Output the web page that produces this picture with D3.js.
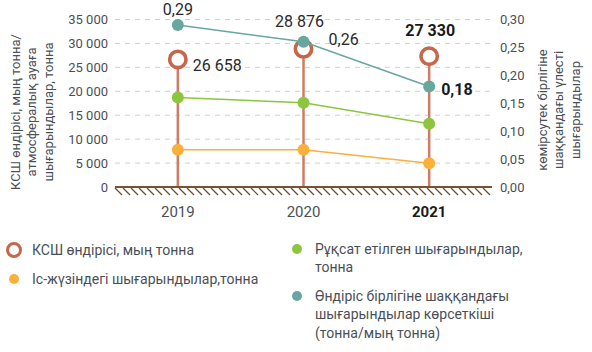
<!DOCTYPE html>
<html>
<head>
<meta charset="utf-8">
<script src="https://cdn.jsdelivr.net/npm/d3@7"></script>
<style>
  body { margin: 0; background: #fff; }
  svg { font-family: Roboto, "Noto Sans", sans-serif; }
</style>
</head>
<body>
<div id="chart"></div>
<script>
// Données
const years = ["2019", "2020", "2021"];
const production = [26658, 28876, 27330];      // КСШ өндірісі, мың тонна
const permitted = [18700, 17600, 13200];       // Рұқсат етілген шығарындылар
const actual = [7800, 7800, 4950];             // Іс-жүзіндегі шығарындылар
const ratio = [0.29, 0.26, 0.18];              // тонна/мың тонна
const leftTicks = [0, 5000, 10000, 15000, 20000, 25000, 30000, 35000];
const rightTicks = [0, 0.05, 0.10, 0.15, 0.20, 0.25, 0.30];

const colRing = "#c4674a";
const colStem = "#cf7c66";
const colGreen = "#8cc63e";
const colOrange = "#fbb03b";
const colTeal = "#68a7a0";
const colText = "#4a4f57";

//---------------------------------------------------------------------------------------

const W = 592, H = 352;
const x0 = 115, x1 = 492, yTop = 19.5, yBase = 187;

const svg = d3.select("#chart").append("svg")
    .attr("width", W)
    .attr("height", H);

// échelles
const scaleX = d3.scaleBand().domain(years).range([x0, x1]).padding(0);
const scaleY1 = d3.scaleLinear().domain([0, 35000]).range([yBase, yTop]);
const scaleY2 = d3.scaleLinear().domain([0, 0.30]).range([yBase, yTop]);
const cx = d => scaleX(d) + scaleX.bandwidth() / 2;

const fmtThousands = v => d3.format(",")(v).replace(/,/g, " ");
const fmtComma = v => d3.format(".2f")(v).replace(".", ",");

// lignes de grille
svg.append("g")
    .selectAll("line")
    .data(leftTicks.filter(d => d > 0))
    .join("line")
    .attr("x1", x0)
    .attr("x2", x1)
    .attr("y1", d => scaleY1(d))
    .attr("y2", d => scaleY1(d))
    .attr("stroke", "#d0d0d0")
    .attr("stroke-dasharray", "5,5");

// axe gauche
svg.append("g")
    .attr("transform", `translate(${x0 - 3},0)`)
    .call(d3.axisLeft(scaleY1).tickValues(leftTicks).tickSize(0).tickPadding(4).tickFormat(fmtThousands))
    .call(g => g.select(".domain").remove())
    .selectAll("text")
    .attr("fill", colText)
    .attr("font-size", "13px")
    .attr("font-family", "Roboto");

// axe droit
svg.append("g")
    .attr("transform", `translate(${x1 + 4},0)`)
    .call(d3.axisRight(scaleY2).tickValues(rightTicks).tickSize(0).tickPadding(4).tickFormat(fmtComma))
    .call(g => g.select(".domain").remove())
    .selectAll("text")
    .attr("fill", colText)
    .attr("font-size", "13px")
    .attr("font-family", "Roboto");

// titres des axes
const leftTitle = ["КСШ өндірісі, мың тонна/", "атмосфералық ауаға", "шығарындылар, тонна"];
svg.append("text")
    .attr("transform", "translate(15,112) rotate(-90)")
    .attr("text-anchor", "middle")
    .attr("font-size", "13px")
    .attr("fill", colText)
    .selectAll("tspan")
    .data(leftTitle)
    .join("tspan")
    .attr("x", 0)
    .attr("dy", (d, i) => i === 0 ? "0.35em" : "16.5")
    .text(d => d);

const rightTitle = ["көмірсутек бірлігіне", "шаққандағы үлесті", "шығарындылар"];
svg.append("text")
    .attr("transform", "translate(542,110) rotate(-90)")
    .attr("text-anchor", "middle")
    .attr("font-size", "13px")
    .attr("fill", colText)
    .selectAll("tspan")
    .data(rightTitle)
    .join("tspan")
    .attr("x", 0)
    .attr("dy", (d, i) => i === 0 ? "0.35em" : "16.5")
    .text(d => d);

// tiges
svg.append("g")
    .selectAll("line")
    .data(years)
    .join("line")
    .attr("x1", d => cx(d))
    .attr("x2", d => cx(d))
    .attr("y1", (d, i) => scaleY1(production[i]) + 9)
    .attr("y2", yBase)
    .attr("stroke", colStem)
    .attr("stroke-width", 2.5);

// base hachurée
const hatch = d3.range(x0, x1 - 4, 8);
svg.append("g")
    .selectAll("line")
    .data(hatch)
    .join("line")
    .attr("x1", d => d)
    .attr("x2", d => d + 7)
    .attr("y1", yBase + 1)
    .attr("y2", yBase + 8)
    .attr("stroke", "#6e4a2c")
    .attr("stroke-width", 1.2);
svg.append("line")
    .attr("x1", x0)
    .attr("x2", x1)
    .attr("y1", yBase)
    .attr("y2", yBase)
    .attr("stroke", "#7a5230")
    .attr("stroke-width", 2);

// séries en lignes
const drawSeries = (values, scale, col) => {
    const line = d3.line()
        .x((d, i) => cx(years[i]))
        .y(d => scale(d));
    svg.append("path")
        .attr("d", line(values))
        .attr("fill", "none")
        .attr("stroke", col)
        .attr("stroke-width", 1.5);
    svg.append("g")
        .selectAll("circle")
        .data(values)
        .join("circle")
        .attr("cx", (d, i) => cx(years[i]))
        .attr("cy", d => scale(d))
        .attr("r", 6)
        .attr("fill", col);
};
drawSeries(actual, scaleY1, colOrange);
drawSeries(permitted, scaleY1, colGreen);

// anneaux production
svg.append("g")
    .selectAll("circle")
    .data(production)
    .join("circle")
    .attr("cx", (d, i) => cx(years[i]))
    .attr("cy", d => scaleY1(d))
    .attr("r", 8.2)
    .attr("fill", "#fff")
    .attr("stroke", colRing)
    .attr("stroke-width", 3.6);

drawSeries(ratio, scaleY2, colTeal);

// étiquettes
const labels = [
    { t: fmtThousands(production[0]), x: cx(years[0]) + 15, y: scaleY1(production[0]) + 6, a: "start", b: false },
    { t: fmtThousands(production[1]), x: cx(years[1]) - 4, y: scaleY1(production[1]) - 27, a: "middle", b: false },
    { t: fmtThousands(production[2]), x: cx(years[2]) + 1, y: scaleY1(production[2]) - 26, a: "middle", b: true },
    { t: fmtComma(ratio[0]).replace(/0$/, ""), x: cx(years[0]), y: scaleY2(ratio[0]) - 16, a: "middle", b: false },
    { t: fmtComma(ratio[1]).replace(/0$/, ""), x: cx(years[1]) + 25, y: scaleY2(ratio[1]) - 2, a: "start", b: false },
    { t: fmtComma(ratio[2]).replace(/0$/, ""), x: cx(years[2]) + 12, y: scaleY2(ratio[2]) + 3, a: "start", b: true }
];
svg.append("g")
    .selectAll("text")
    .data(labels)
    .join("text")
    .attr("x", d => d.x)
    .attr("y", d => d.y)
    .attr("dy", "0.35em")
    .attr("text-anchor", d => d.a)
    .attr("font-size", "16px")
    .attr("font-weight", d => d.b ? "bold" : "normal")
    .attr("fill", d => d.b ? "#1a1a1a" : "#2a2a2a")
    .text(d => d.t);

// années
svg.append("g")
    .selectAll("text")
    .data(years)
    .join("text")
    .attr("x", d => cx(d))
    .attr("y", 212)
    .attr("dy", "0.35em")
    .attr("text-anchor", "middle")
    .attr("font-size", "15px")
    .attr("font-weight", (d, i) => i === 2 ? "bold" : "normal")
    .attr("fill", (d, i) => i === 2 ? "#1a1a1a" : colText)
    .text(d => d);

//---------------------------------------------------------------------------------------

// Légende
const legendValues = [
    { lines: ["КСШ өндірісі, мың тонна"], col: colRing, ring: true, x: 14, y: 250 },
    { lines: ["Іс-жүзіндегі шығарындылар,тонна"], col: colOrange, ring: false, x: 14, y: 279 },
    { lines: ["Рұқсат етілген шығарындылар,", "тонна"], col: colGreen, ring: false, x: 297, y: 249 },
    { lines: ["Өндіріс бірлігіне шаққандағы", "шығарындылар көрсеткіші", "(тонна/мың тонна)"], col: colTeal, ring: false, x: 297, y: 296 }
];

const legend = svg.selectAll(".legend")
    .data(legendValues)
    .join("g")
    .attr("class", "legend")
    .attr("transform", d => `translate(${d.x},${d.y})`);

legend.append("circle")
    .attr("r", d => d.ring ? 6.5 : 5)
    .attr("fill", d => d.ring ? "#fff" : d.col)
    .attr("stroke", d => d.ring ? d.col : "none")
    .attr("stroke-width", 3);

legend.append("text")
    .attr("font-size", "14px")
    .attr("fill", colText)
    .selectAll("tspan")
    .data(d => d.lines)
    .join("tspan")
    .attr("x", 18)
    .attr("y", (d, i) => i * 18.5)
    .attr("dy", "0.35em")
    .text(d => d);
</script>
</body>
</html>
